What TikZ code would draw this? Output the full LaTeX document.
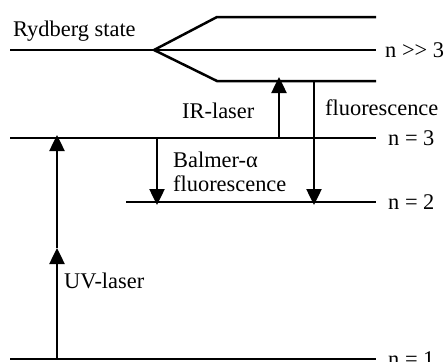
\documentclass[tikz,border=0pt]{standalone}
\usepackage{fontspec}
\setmainfont{Liberation Serif}
\usetikzlibrary{arrows.meta}
\begin{document}
\begin{tikzpicture}[x=1pt,y=-1pt,
  level/.style={line width=2.5pt},
  arr/.style={line width=2.5pt,-{Triangle[width=15pt,length=16pt]}},
  lbl/.style={anchor=base west,inner sep=0pt,font=\fontsize{22.4}{26}\selectfont},
  rlbl/.style={anchor=west,inner sep=0pt,font=\fontsize{22.4}{26}\selectfont}]
\useasboundingbox (0,0) rectangle (448,362);
% levels
\coordinate (rL) at (10,50);
\coordinate (fork) at (154,50);
\coordinate (rR) at (376,50);
\coordinate (uA) at (217,17);
\coordinate (uB) at (376,17);
\coordinate (lA) at (217,81);
\coordinate (lB) at (376,81);
\coordinate (n3L) at (10,138);
\coordinate (n3R) at (376,138);
\coordinate (n2L) at (126,202);
\coordinate (n2R) at (376,202);
\coordinate (n1L) at (10,359);
\coordinate (n1R) at (376,359);
\draw[level] (rL) -- (rR);
\draw[level] (fork) -- (uA) -- (uB);
\draw[level] (fork) -- (lA) -- (lB);
\draw[level] (n3L) -- (n3R);
\draw[level] (n2L) -- (n2R);
\draw[level] (n1L) -- (n1R);
% transitions
\coordinate (uvS) at (57,359);
\coordinate (uvM) at (57,248);
\coordinate (uvE) at (57,135);
\coordinate (irS) at (279,138);
\coordinate (irE) at (279,77);
\coordinate (baS) at (157,138);
\coordinate (baE) at (157,205);
\coordinate (flS) at (314,81);
\coordinate (flE) at (314,205);
\draw[arr] (uvS) -- (uvM);
\draw[arr] (uvM) -- (uvE);
\draw[arr] (irS) -- (irE);
\draw[arr] (baS) -- (baE);
\draw[arr] (flS) -- (flE);
% labels
\node[lbl] (ryd) at (13,36) {Rydberg state};
\node[rlbl] (nr) at (385,50) {n {>}{>} 3};
\node[rlbl] (n3) at (388,138) {n = 3};
\node[rlbl] (n2) at (388,202) {n = 2};
\node[rlbl] (n1) at (388,359) {n = 1};
\node[lbl] (ir) at (182,118) {IR-laser};
\node[lbl] (fl) at (325,115) {fluorescence};
\node[lbl] (ba) at (173,167) {Balmer-α};
\node[lbl] (baf) at (173,191) {fluorescence};
\node[lbl] (uv) at (64,288) {UV-laser};
\end{tikzpicture}
\end{document}
